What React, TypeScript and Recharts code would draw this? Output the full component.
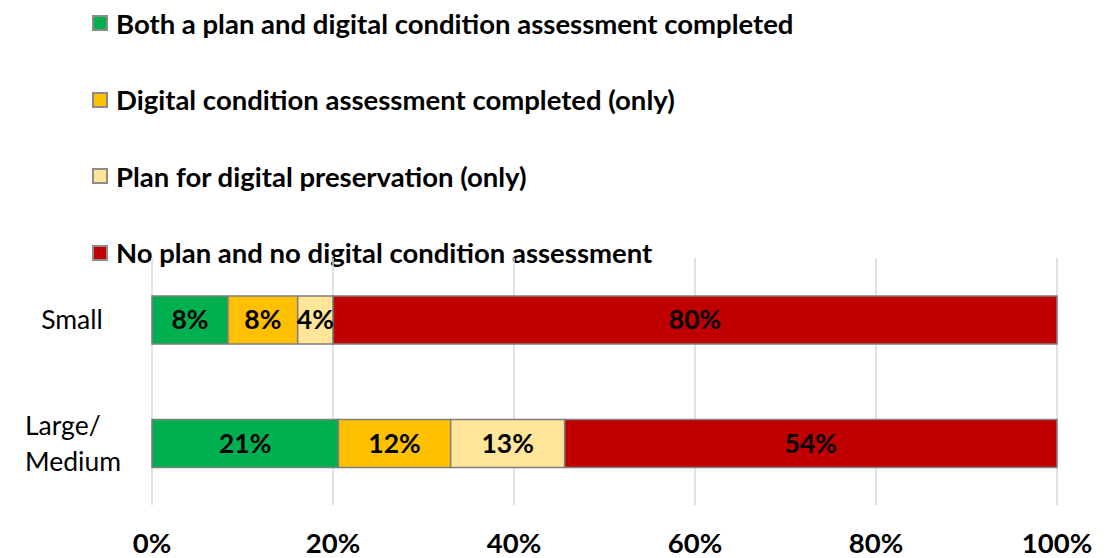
import React from "react";
import { BarChart, Bar, XAxis, YAxis, CartesianGrid, LabelList } from "recharts";

const categories = ["Small", "Large/ Medium"];
const seriesNames = [
  "Both a plan and digital condition assessment completed",
  "Digital condition assessment completed (only)",
  "Plan for digital preservation (only)",
  "No plan and no digital condition assessment",
];
const seriesKeys = ["both", "assessOnly", "planOnly", "none"];
const seriesColors = ["#00B050", "#FFC000", "#FFE699", "#C00000"];
const bothValues = [8.4, 20.6];
const assessOnlyValues = [7.7, 12.4];
const planOnlyValues = [3.9, 12.6];
const noneValues = [80.0, 54.4];
const xTicks = [0, 20, 40, 60, 80, 100];

const data = categories.map((c, i) => ({
  name: c,
  both: bothValues[i],
  assessOnly: assessOnlyValues[i],
  planOnly: planOnlyValues[i],
  none: noneValues[i],
}));

const FONT = "Lato, 'Noto Sans', sans-serif";

const YTick = (props: any) => {
  const { y, payload } = props;
  const lines = String(payload.value).split(" ");
  const lh = 36;
  const start = y - ((lines.length - 1) * lh) / 2;
  const multi = lines.length > 1;
  const x = multi ? 17 : 64;
  return (
    <text x={x} y={start} textAnchor={multi ? "start" : "middle"} fontFamily={FONT} fontSize={26.5} fill="#000">
      {lines.map((l, i) => (
        <tspan key={i} x={x} y={start + i * lh} dy="0.36em">
          {l}
        </tspan>
      ))}
    </text>
  );
};

const XTick = (props: any) => {
  const { x, y, payload } = props;
  return (
    <text x={x} y={y} dy={40} textAnchor="middle" fontFamily={FONT} fontWeight="bold" fontSize={27.5} fill="#000">
      {`${payload.value}%`}
    </text>
  );
};

export default function App() {
  return (
    <div style={{ position: "relative", width: 1100, height: 550, fontFamily: FONT }}>
      <div style={{ position: "absolute", left: 84, top: 0 }}>
        {seriesNames.map((n, i) => (
          <div
            key={n}
            style={{ display: "flex", alignItems: "center", height: 30, marginBottom: 46.5 }}
          >
            <div
              style={{
                width: 12,
                height: 12,
                background: seriesColors[i],
                border: "2px solid #8C8C8C",
                marginRight: 8,
              }}
            />
            <span style={{ fontWeight: "bold", fontSize: 27.5, color: "#000", whiteSpace: "nowrap" }}>{n}</span>
          </div>
        ))}
      </div>
      <BarChart
        width={1100}
        height={550}
        layout="vertical"
        data={data}
        margin={{ top: 250, right: 51, bottom: 13, left: 0 }}
        barSize={48}
      >
        <CartesianGrid horizontal={false} vertical={true} stroke="#D9D9D9" strokeWidth={1.5} />
        <XAxis
          type="number"
          domain={[0, 100]}
          ticks={xTicks}
          axisLine={false}
          tickLine={false}
          tick={<XTick />}
          height={40}
          interval={0}
        />
        <YAxis
          type="category"
          dataKey="name"
          width={144}
          axisLine={false}
          tickLine={false}
          tick={<YTick />}
        />
        {seriesKeys.map((k, i) => (
          <Bar
            key={k}
            dataKey={k}
            stackId="a"
            fill={seriesColors[i]}
            stroke="#7F7F7F"
            strokeWidth={1.5}
            isAnimationActive={false}
          >
            <LabelList
              dataKey={k}
              position="center"
              formatter={(v: any) => `${Math.round(Number(v))}%`}
              style={{ fill: "#000", fontWeight: "bold", fontSize: 26.5, fontFamily: FONT }}
            />
          </Bar>
        ))}
      </BarChart>
    </div>
  );
}
